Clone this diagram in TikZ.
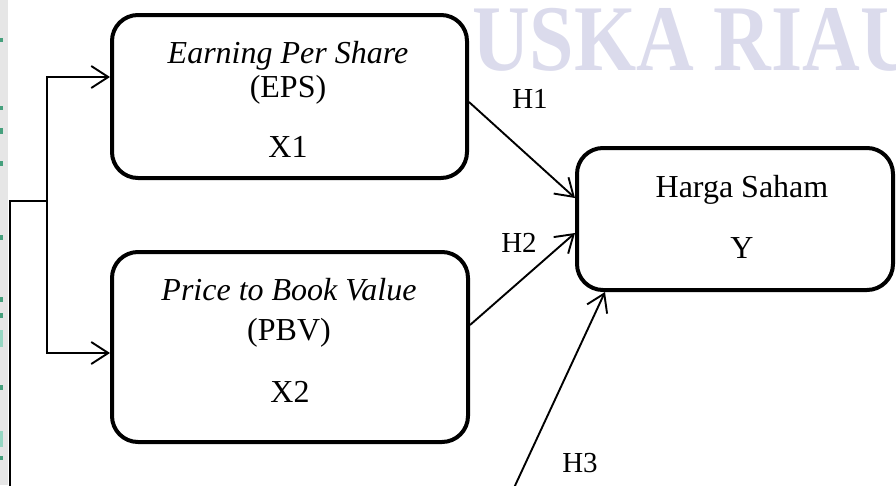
\documentclass[tikz,border=0pt]{standalone}
\usepackage{fontspec}
\setmainfont{Liberation Serif}
\usetikzlibrary{arrows.meta}

\definecolor{wmark}{RGB}{219,219,236}
\definecolor{stripgray}{RGB}{230,230,230}
\definecolor{stripgreen}{RGB}{70,160,125}
\definecolor{stripcyan}{RGB}{150,215,195}

\tikzset{
  varbox/.style={draw=black, line width=4pt, rounded corners=26pt, fill=white,
                 inner sep=0pt},
  boxtext/.style={anchor=base, inner sep=0pt,
                  font=\fontsize{32}{34}\selectfont},
  hyplabel/.style={anchor=base, inner sep=0pt,
                   font=\fontsize{29}{31}\selectfont},
  link/.style={draw=black, line width=1.9pt},
  arr/.style={link, -{Straight Barb[length=17pt, width=22pt]}},
  stripmark/.style={fill=stripgreen},
}

\begin{document}
\begin{tikzpicture}[x=1pt, y=-1pt]
  \useasboundingbox (0,0) rectangle (896,485);

  % grey margin strip with its green marks
  \fill[stripgray] (0,0) rectangle (8,485);
  \foreach \ya/\yb in {38/42, 106/110, 128/134, 161/166, 235/240, 297/302,
                       313/318, 385/390, 456/460}
    \fill[stripmark] (0,\ya) rectangle (2.5,\yb);
  \foreach \ya/\yb in {330/347, 431/447}
    \fill[stripcyan] (0,\ya) rectangle (2.5,\yb);

  % background lettering, visible only to the right of the first box
  \begin{scope}
    \clip (471,0) rectangle (896,120);
    \node[anchor=base west, inner sep=0pt, text=wmark,
          font=\fontsize{94}{94}\selectfont\bfseries] (wm) at (261,70)
          {\scalebox{0.85}[1]{UIN SUSKA RIAU}};
  \end{scope}

  % variable boxes
  \node[varbox, minimum width=355pt, minimum height=163pt] (eps)   at (289.5,96.5) {};
  \node[varbox, minimum width=356pt, minimum height=190pt] (pbv)   at (290,347)    {};
  \node[varbox, minimum width=316pt, minimum height=142pt] (price) at (735,219)    {};

  % box contents
  \node[boxtext] (epsname) at (288,63)  {\textit{Earning Per Share}};
  \node[boxtext] (epsabbr) at (288,97)  {(EPS)};
  \node[boxtext] (epsvar)  at (288,157) {X1};

  \node[boxtext] (pbvname) at (289,300) {\textit{Price to Book Value}};
  \node[boxtext] (pbvabbr) at (289,340) {(PBV)};
  \node[boxtext] (pbvvar)  at (290,402) {X2};

  \node[boxtext] (pricename) at (742,197) {Harga Saham};
  \node[boxtext] (pricevar)  at (742,258) {Y};

  % bracket feeding both independent variables
  \coordinate (root) at (10,490);
  \coordinate (fork) at (47,201);
  \coordinate (f1)   at (47,77);
  \coordinate (f2)   at (47,353);
  \draw[link] (root) |- (fork);
  \draw[arr] (fork) -- (f1) -- (f1 -| eps.west);
  \draw[arr] (fork) -- (f2) -- (f2 -| pbv.west);

  % hypothesis arrows
  \draw[arr] ([yshift=-5.5pt]eps.east) -- ([yshift=21pt]price.west);
  \draw[arr] ([yshift=22pt]pbv.east)   -- ([yshift=-14pt]price.west);
  \coordinate (h3start) at (513,490);
  \draw[arr] (h3start) -- ([xshift=-130pt]price.south);

  \node[hyplabel] (h1) at (530,108) {H1};
  \node[hyplabel] (h2) at (519,252) {H2};
  \node[hyplabel] (h3) at (580,472) {H3};
\end{tikzpicture}
\end{document}
